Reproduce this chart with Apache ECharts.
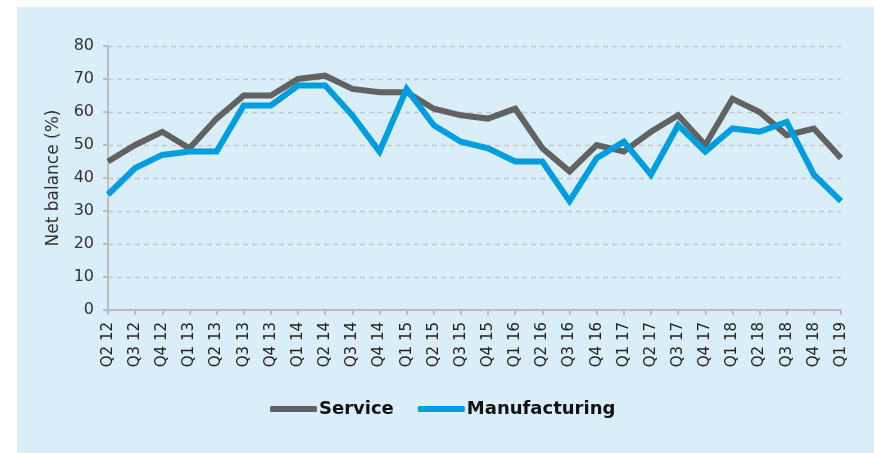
<!DOCTYPE html>
<html>
<head>
<meta charset="utf-8">
<script src="https://cdn.jsdelivr.net/npm/echarts@6/dist/echarts.min.js"></script>
<style>
html,body{margin:0;padding:0;background:#fff;}
#c{width:874px;height:453px;}
</style>
</head>
<body>
<div id="c"></div>
<script>
var categories = ['Q2 12','Q3 12','Q4 12','Q1 13','Q2 13','Q3 13','Q4 13','Q1 14','Q2 14','Q3 14','Q4 14','Q1 15','Q2 15','Q3 15','Q4 15','Q1 16','Q2 16','Q3 16','Q4 16','Q1 17','Q2 17','Q3 17','Q4 17','Q1 18','Q2 18','Q3 18','Q4 18','Q1 19'];
var service = [45,50,54,49,58,65,65,70,71,67,66,66,61,59,58,61,49,42,50,48,54,59,50,64,60,53,55,46];
var manufacturing = [35,43,47,48,48,62,62,68,68,59,48,67,56,51,49,45,45,33,46,51,41,56,48,55,54,57,41,33];
var yTicks = [0,10,20,30,40,50,60,70,80];

var chart = echarts.init(document.getElementById('c'), null, {renderer:'canvas'});
var font = 'DejaVu Sans';
chart.setOption({
  animation:false,
  backgroundColor:'#ffffff',
  graphic:[{type:'rect', z:-10, shape:{x:17,y:7,width:900,height:500}, style:{fill:'#d9eef9'}}],
  grid:{left:108,right:33,top:46,bottom:143},
  legend:{
    show:true, orient:'horizontal',
    left:265, top:395, width:520,
    icon:'roundRect',
    itemWidth:47, itemHeight:6, itemGap:24,
    textStyle:{fontFamily:font, fontWeight:'bold', fontSize:18, color:'#111', padding:[0,0,0,-3]},
    data:['Service','Manufacturing']
  },
  xAxis:{
    type:'category', boundaryGap:false, data:categories,
    axisLine:{lineStyle:{color:'#bdbdbd', width:2}},
    axisTick:{show:true, length:5, alignWithLabel:true, lineStyle:{color:'#bdbdbd', width:2}},
    axisLabel:{rotate:90, interval:0, margin:12, fontFamily:font, fontSize:15, color:'#222'},
    splitLine:{show:false}
  },
  yAxis:{
    type:'value', min:yTicks[0], max:yTicks[yTicks.length-1], interval:10,
    name:'Net balance (%)', nameLocation:'middle', nameGap:46, nameRotate:90,
    nameTextStyle:{fontFamily:font, fontSize:17, color:'#333'},
    axisLine:{show:true, lineStyle:{color:'#bdbdbd', width:2}},
    axisTick:{show:true, length:5, lineStyle:{color:'#bdbdbd', width:2}},
    axisLabel:{margin:14, fontFamily:font, fontSize:16, color:'#333'},
    splitLine:{show:true, lineStyle:{color:'#c6c6c6', type:[5,4], width:1.3}}
  },
  series:[
    {name:'Service', type:'line', data:service, symbol:'none', smooth:false,
     lineStyle:{color:'#626262', width:6, join:'miter'}, itemStyle:{color:'#626262'}},
    {name:'Manufacturing', type:'line', data:manufacturing, symbol:'none', smooth:false,
     lineStyle:{color:'#009ee0', width:6, join:'miter'}, itemStyle:{color:'#009ee0'}}
  ]
});
</script>
</body>
</html>
